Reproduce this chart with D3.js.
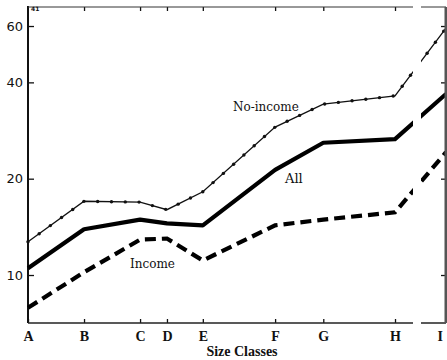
<!DOCTYPE html>
<html>
<head>
<meta charset="utf-8">
<script src="https://cdn.jsdelivr.net/npm/d3@7"></script>
<style>
  body { margin: 0; background: #fff; }
  svg text { fill: #111; }
</style>
</head>
<body>
<div id="chart"></div>
<script>
// size classes and their relative position along the axis
var classes = ["A", "B", "C", "D", "E", "F", "G", "H", "I"];
var classPos = [0, 1, 2, 2.48, 3.12, 4.41, 5.27, 6.55, 7.46];

// series values
var noIncome = [12.7, 17.0, 16.9, 16.0, 18.2, 29.0, 34.2, 36.3, 59.1];
var allFarms = [10.5, 13.9, 14.9, 14.5, 14.3, 21.3, 25.9, 26.6, 36.8];
var income   = [7.9, 10.2, 12.9, 13.0, 11.1, 14.3, 14.9, 15.7, 24.2];

var yTicks = [10, 20, 40, 60];

function drawChart() {
  var width = 447, height = 360;
  // plot box edges
  var pl = 28, pr = 446, pt = 7, pb = 323;

  var svg = d3.select("#chart").append("svg")
    .attr("width", width)
    .attr("height", height);

  var x = d3.scaleLinear().domain([0, 7.46]).range([pl, pr]);
  var y = d3.scaleLog().domain([7.08, 68.8]).range([pb, pt]);

  function pts(vals) {
    return vals.map(function (v, i) { return [x(classPos[i]), y(v)]; });
  }
  var line = d3.line();

  // axes ---------------------------------------------------------
  var yAxis = svg.append("g")
    .attr("transform", "translate(" + pl + ",0)")
    .call(d3.axisLeft(y).tickValues(yTicks).tickFormat(d3.format("d"))
      .tickSize(-6).tickPadding(5));
  yAxis.selectAll("text")
    .style("font-family", "DejaVu Sans")
    .style("font-size", "13px");

  var xAxis = svg.append("g")
    .attr("transform", "translate(0," + pb + ")")
    .call(d3.axisBottom(x).tickValues(classPos)
      .tickFormat(function (d, i) { return classes[i]; })
      .tickSize(-4).tickPadding(8));
  xAxis.selectAll("text")
    .style("font-family", "Liberation Serif")
    .style("font-weight", "bold")
    .style("font-size", "14px");
  // last label sits against the right edge
  xAxis.selectAll("text").filter(function (d) { return d === classPos[classPos.length - 1]; })
    .attr("text-anchor", "end").attr("dx", "-0.25em");

  // ticks on the top and right frame
  svg.append("g")
    .attr("transform", "translate(0," + pt + ")")
    .call(d3.axisTop(x).tickValues(classPos.slice(1, 8)).tickFormat("").tickSize(-4));
  svg.append("g")
    .attr("transform", "translate(" + pr + ",0)")
    .call(d3.axisRight(y).tickValues(yTicks).tickFormat("").tickSize(-5));

  svg.selectAll(".domain").remove();
  svg.selectAll(".tick line").attr("stroke", "#111").attr("stroke-width", 1.3);

  // frame
  svg.append("line").attr("x1", pl).attr("x2", pl).attr("y1", pt - 1).attr("y2", pb)
    .attr("stroke", "#111").attr("stroke-width", 2);
  svg.append("line").attr("x1", pl).attr("x2", pr).attr("y1", pb).attr("y2", pb)
    .attr("stroke", "#222").attr("stroke-width", 1.4);
  svg.append("line").attr("x1", pl).attr("x2", pr).attr("y1", pt).attr("y2", pt)
    .attr("stroke", "#333").attr("stroke-width", 1);

  // lines ---------------------------------------------------------
  var noPath = svg.append("path")
    .attr("d", line(pts(noIncome)))
    .attr("fill", "none").attr("stroke", "#111").attr("stroke-width", 1.3);

  // dotted beads along the no-income line
  var node = noPath.node();
  var len = node.getTotalLength();
  var beads = d3.range(0, len, 13.8).map(function (l) { return node.getPointAtLength(l); });
  svg.append("g").selectAll("circle")
    .data(beads)
    .enter().append("circle")
    .attr("cx", function (d) { return d.x; })
    .attr("cy", function (d) { return d.y; })
    .attr("r", 1.7)
    .attr("fill", "#111");

  svg.append("path")
    .attr("d", line(pts(allFarms)))
    .attr("fill", "none").attr("stroke", "#000").attr("stroke-width", 4.2)
    .attr("stroke-linejoin", "round");

  svg.append("path")
    .attr("d", line(pts(income)))
    .attr("fill", "none").attr("stroke", "#000").attr("stroke-width", 4.2)
    .attr("stroke-dasharray", "11,6");

  // scan gap near class I
  svg.append("rect").attr("x", 413).attr("y", 0).attr("width", 8).attr("height", pb + 3)
    .attr("fill", "#fff");

  // right frame edge
  svg.append("line").attr("x1", pr).attr("x2", pr).attr("y1", pt).attr("y2", pb)
    .attr("stroke", "#555").attr("stroke-width", 3);

  // labels
  function label(txt, xx, yy, size) {
    svg.append("text").attr("x", xx).attr("y", yy)
      .style("font-family", "DejaVu Serif").style("font-size", size + "px")
      .text(txt);
  }
  label("No-income", 233, 111, 12);
  label("All", 285, 183, 13);
  label("Income", 130, 268, 12);

  svg.append("text").attr("x", 242).attr("y", 356)
    .attr("text-anchor", "middle")
    .style("font-family", "Liberation Serif").style("font-weight", "bold")
    .style("font-size", "14px")
    .text("Size Classes");

  svg.append("text").attr("x", 31).attr("y", 11)
    .style("font-family", "DejaVu Sans").style("font-size", "6px").style("font-weight", "bold")
    .text("41");
}

drawChart();
</script>
</body>
</html>
